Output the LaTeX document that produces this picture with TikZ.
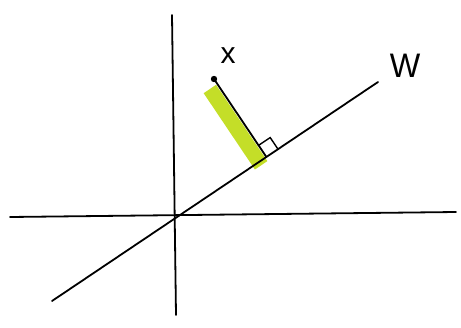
\documentclass[tikz,border=0pt]{standalone}
\usepackage{fontspec}
\setmainfont{Liberation Sans}
\usetikzlibrary{calc}
\definecolor{hl}{RGB}{196,222,40}
\tikzset{
  ink/.style={line width=1.8pt, black, line cap=round},
  band/.style={line width=15pt, hl},
  lab/.style={inner sep=0pt}
}
\begin{document}
\begin{tikzpicture}[x=1pt,y=-1pt]
\useasboundingbox (0,0) rectangle (461,327);
\coordinate (hl) at (10,217);
\coordinate (hr) at (456,212);
\coordinate (vt) at (172,15);
\coordinate (vb) at (176,315);
\coordinate (wl) at (52,301);
\coordinate (wr) at (378,82);
\coordinate (xp) at (214,79);
\coordinate (ft) at ($(wl)!(xp)!(wr)$);
\coordinate (b2) at ($(ft)!9pt!(wl)$);
\coordinate (b1) at ($(b2)+(xp)-(ft)$);
\coordinate (q1) at ($(ft)!14pt!(xp)$);
\coordinate (q3) at ($(ft)!14pt!(wr)$);
\coordinate (q2) at ($(q1)+(q3)-(ft)$);
% highlight band
\draw[band, shorten <=6pt, shorten >=-4pt] (b1) -- (b2);
% axes
\draw[ink] (hl) -- (hr);
\draw[ink] (vt) -- (vb);
% W line
\draw[ink] (wl) -- (wr);
% projection segment
\draw[ink] (xp) -- (ft);
\fill (xp) circle (3.2pt);
% right angle mark
\draw[line width=1.4pt] (q1) -- (q2) -- (q3);
% labels
\node[lab, font=\fontsize{30}{30}\selectfont] (xlab) at (228,56) {x};
\node[lab, font=\fontsize{34}{34}\selectfont, xscale=0.95] (wlab) at (405,66) {W};
\end{tikzpicture}
\end{document}
